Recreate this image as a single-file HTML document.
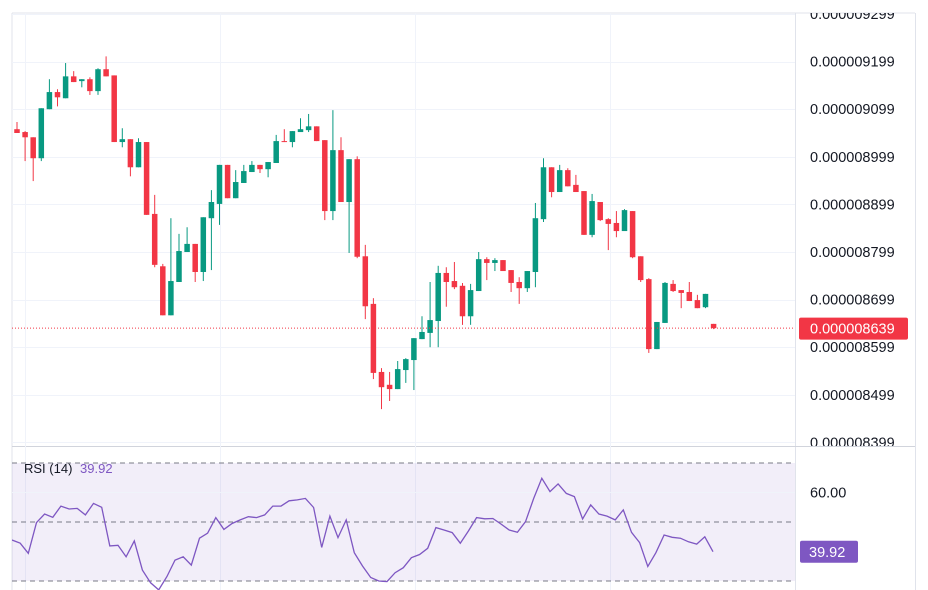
<!DOCTYPE html>
<html><head><meta charset="utf-8">
<style>
html,body{margin:0;padding:0;background:#fff;}
svg{display:block;font-family:"Liberation Sans",sans-serif;}
</style></head>
<body>
<svg id="chart" width="928" height="590" viewBox="0 0 928 590" xmlns="http://www.w3.org/2000/svg"></svg>
<script>
// ---- data (prices in units of 1e-9) ----
const opens  = [9057,9051,9040,8996,9099,9135,9122,9168,9158,9162,9137,9183,9170,9030,9036,8977,9030,8879,8769,8666,8736,8799,8816,8757,8870,8900,8982,8912,8944,8967,8982,8973,8986,9032,9030,9051,9055,9063,9034,8885,9013,8904,8994,8790,8690,8547,8520,8511,8551,8572,8616,8629,8654,8755,8738,8728,8664,8717,8784,8776,8782,8761,8736,8723,8757,8868,8977,8925,8971,8940,8927,8835,8904,8868,8860,8843,8885,8790,8742,8595,8650,8732,8719,8715,8698,8683,8648];
const highs  = [9072,9053,9040,9101,9162,9141,9196,9179,9162,9166,9185,9210,9170,9059,9036,9038,9030,8919,8774,8870,8837,8851,8816,8872,8929,8982,8982,8971,8982,8990,8982,8988,9045,9057,9053,9080,9089,9063,9034,9097,9040,8994,9000,8814,8702,8555,8547,8570,8576,8618,8664,8736,8770,8767,8778,8734,8732,8799,8788,8786,8782,8761,8746,8759,8902,8996,8977,8982,8975,8961,8927,8921,8904,8870,8885,8889,8885,8790,8744,8652,8736,8740,8719,8736,8709,8711,8648];
const lows   = [9049,8990,8948,8990,9099,9105,9122,9156,9145,9129,9129,9168,9030,9019,8958,8977,8877,8767,8666,8666,8736,8799,8736,8738,8761,8856,8912,8912,8944,8967,8965,8956,8986,9030,9019,9051,9051,9032,8866,8866,8904,8797,8786,8658,8532,8469,8486,8511,8524,8509,8616,8599,8599,8684,8721,8646,8646,8717,8740,8759,8759,8715,8690,8715,8725,8862,8914,8925,8937,8925,8835,8830,8864,8803,8830,8843,8786,8736,8587,8595,8650,8715,8681,8696,8681,8681,8637];
const closes = [9049,9040,8996,9101,9135,9124,9168,9156,9162,9137,9183,9168,9030,9036,8977,9030,8877,8772,8666,8738,8801,8816,8757,8872,8904,8982,8912,8946,8969,8982,8973,8988,9032,9030,9053,9057,9063,9032,8885,9013,8904,8994,8789,8685,8545,8515,8511,8553,8574,8618,8631,8656,8755,8736,8725,8664,8719,8784,8776,8782,8759,8734,8723,8759,8870,8977,8925,8971,8937,8925,8835,8906,8866,8858,8843,8887,8788,8740,8595,8652,8734,8717,8713,8696,8681,8711,8639];
const priceTicks = [9299,9199,9099,8999,8899,8799,8699,8599,8499,8399];
const lastPrice = 8639;
const rsiValues = [43.9,42.8,39.4,49.8,52.7,51.6,55.4,54.4,54.6,52.4,56.3,55.0,41.9,42.1,38.2,43.6,33.7,29.4,27.0,31.5,37.1,38.2,35.4,44.5,46.2,51.5,47.5,49.5,50.7,51.8,51.5,52.4,55.4,55.4,57.2,57.5,58.0,54.9,41.4,52.0,44.7,50.7,39.6,35.1,31.2,30.0,29.8,32.8,34.5,37.9,39.0,41.1,48.1,47.3,46.4,42.8,47.0,51.5,51.1,51.2,49.3,47.3,46.5,50.1,58.0,64.8,60.3,62.9,59.7,58.6,51.0,55.8,52.7,52.0,50.7,54.1,46.5,43.0,34.9,39.6,45.6,44.8,44.5,43.3,42.5,45.0,39.92];
const rsiLevels = [70,50,30];
const rsiTick = [60];

const NS='http://www.w3.org/2000/svg';
const svg=document.getElementById('chart');
function mk(tag,attrs,parent){const e=document.createElementNS(NS,tag);for(const k in attrs)e.setAttribute(k,attrs[k]);(parent||svg).appendChild(e);return e;}
function fmt(p){return (p/1e9).toFixed(9);}

// axes
const yP = p => 14 + (9299 - p) * 0.476;
const xC = i => 17 + i * 8.1;
const yR = v => 463 + (70 - v) * 2.95;
const xR = i => 12 + i * (701 / (rsiValues.length - 1));

// defs / clip
const defs=mk('defs',{});
const cp=mk('clipPath',{id:'mainClip'},defs);mk('rect',{x:12,y:13,width:783,height:433},cp);
const ca=mk('clipPath',{id:'axisClip'},defs);mk('rect',{x:796,y:13,width:119,height:433},ca);
const cr=mk('clipPath',{id:'rsiClip'},defs);mk('rect',{x:12,y:447,width:783,height:143},cr);

// frame
const frame=mk('g',{});


mk('line',{x1:12,y1:13,x2:915,y2:13,stroke:'#e0e3eb'},frame);
mk('line',{x1:12,y1:13,x2:12,y2:590,stroke:'#e0e3eb'},frame);
mk('line',{x1:795.5,y1:13,x2:795.5,y2:590,stroke:'#e0e3eb'},frame);
mk('line',{x1:915.5,y1:13,x2:915.5,y2:590,stroke:'#e0e3eb'},frame);
mk('line',{x1:12,y1:446.5,x2:915,y2:446.5,stroke:'#d1d4dc'},frame);

// grid
const grid=mk('g',{'clip-path':'url(#mainClip)'});


priceTicks.forEach(p=>{const y=Math.round(yP(p))+0.5;mk('line',{x1:12,y1:y,x2:795,y2:y,stroke:'#f0f3fa'},grid);});
[25,220,415,610].forEach(x=>{mk('line',{x1:x+0.5,y1:13,x2:x+0.5,y2:590,stroke:'#f0f3fa'},svg);});

// candles
const cg=mk('g',{'clip-path':'url(#mainClip)'});


for(let i=0;i<opens.length;i++){
  const up=closes[i]>=opens[i];const col=up?'#089981':'#f23645';
  const x=xC(i);
  const g=mk('g',{},cg);
  
  
  mk('line',{x1:x,y1:yP(highs[i]),x2:x,y2:yP(lows[i]),stroke:col,'stroke-width':1},g);
  const t=yP(Math.max(opens[i],closes[i])),b=yP(Math.min(opens[i],closes[i]));
  mk('rect',{x:x-2.75,y:t,width:5.5,height:Math.max(1,b-t),fill:col},g);
}
// last price line
const ly=yP(lastPrice);
const pl=mk('line',{x1:12,y1:ly,x2:795,y2:ly,stroke:'#f23645','stroke-dasharray':'1 2','stroke-width':1});



// price axis labels
const ax=mk('g',{'clip-path':'url(#axisClip)'});


priceTicks.forEach(p=>{const t=mk('text',{x:810,y:yP(p)+5,'font-size':14.5,fill:'#131722'},ax);t.textContent=fmt(p);
  
  });
const tag=mk('g',{});


mk('rect',{x:799,y:ly-10.5,width:109,height:22,rx:2,fill:'#f23645'},tag);
const tt=mk('text',{x:810,y:ly+5.5,'font-size':14.5,fill:'#fff'},tag);tt.textContent=fmt(lastPrice);

// RSI pane
const rp=mk('g',{'clip-path':'url(#rsiClip)'});


mk('rect',{x:12,y:yR(70),width:783,height:yR(30)-yR(70),fill:'#7e57c2','fill-opacity':0.1},rp);
rsiTick.forEach(v=>{mk('line',{x1:12,y1:yR(v),x2:795,y2:yR(v),stroke:'#f0f3fa'},rp);});
rsiLevels.forEach(v=>{const l=mk('line',{x1:12,y1:yR(v),x2:795,y2:yR(v),stroke:'#787b86','stroke-dasharray':'5 4'},rp);
  
  });
const pts=rsiValues.map((v,i)=>xR(i).toFixed(1)+','+yR(v).toFixed(1)).join(' ');
const rl=mk('polyline',{points:pts,fill:'none',stroke:'#7e57c2','stroke-width':1.3},rp);



const leg=mk('text',{x:24,y:473,'font-size':13,fill:'#131722'});


leg.innerHTML='RSI (14) <tspan fill="#7e57c2" dx="4">'+rsiValues[rsiValues.length-1].toFixed(2)+'</tspan>';

rsiTick.forEach(v=>{const t=mk('text',{x:810,y:yR(v)+5,'font-size':14.5,fill:'#131722'});t.textContent=v.toFixed(2);
  
  });
const rv=rsiValues[rsiValues.length-1];
const rt=mk('g',{});


mk('rect',{x:800,y:yR(rv)-11,width:58,height:22,rx:2,fill:'#7e57c2'},rt);
const rtt=mk('text',{x:809,y:yR(rv)+5.5,'font-size':14.5,fill:'#fff'},rt);rtt.textContent=rv.toFixed(2);
</script>
</body></html>
